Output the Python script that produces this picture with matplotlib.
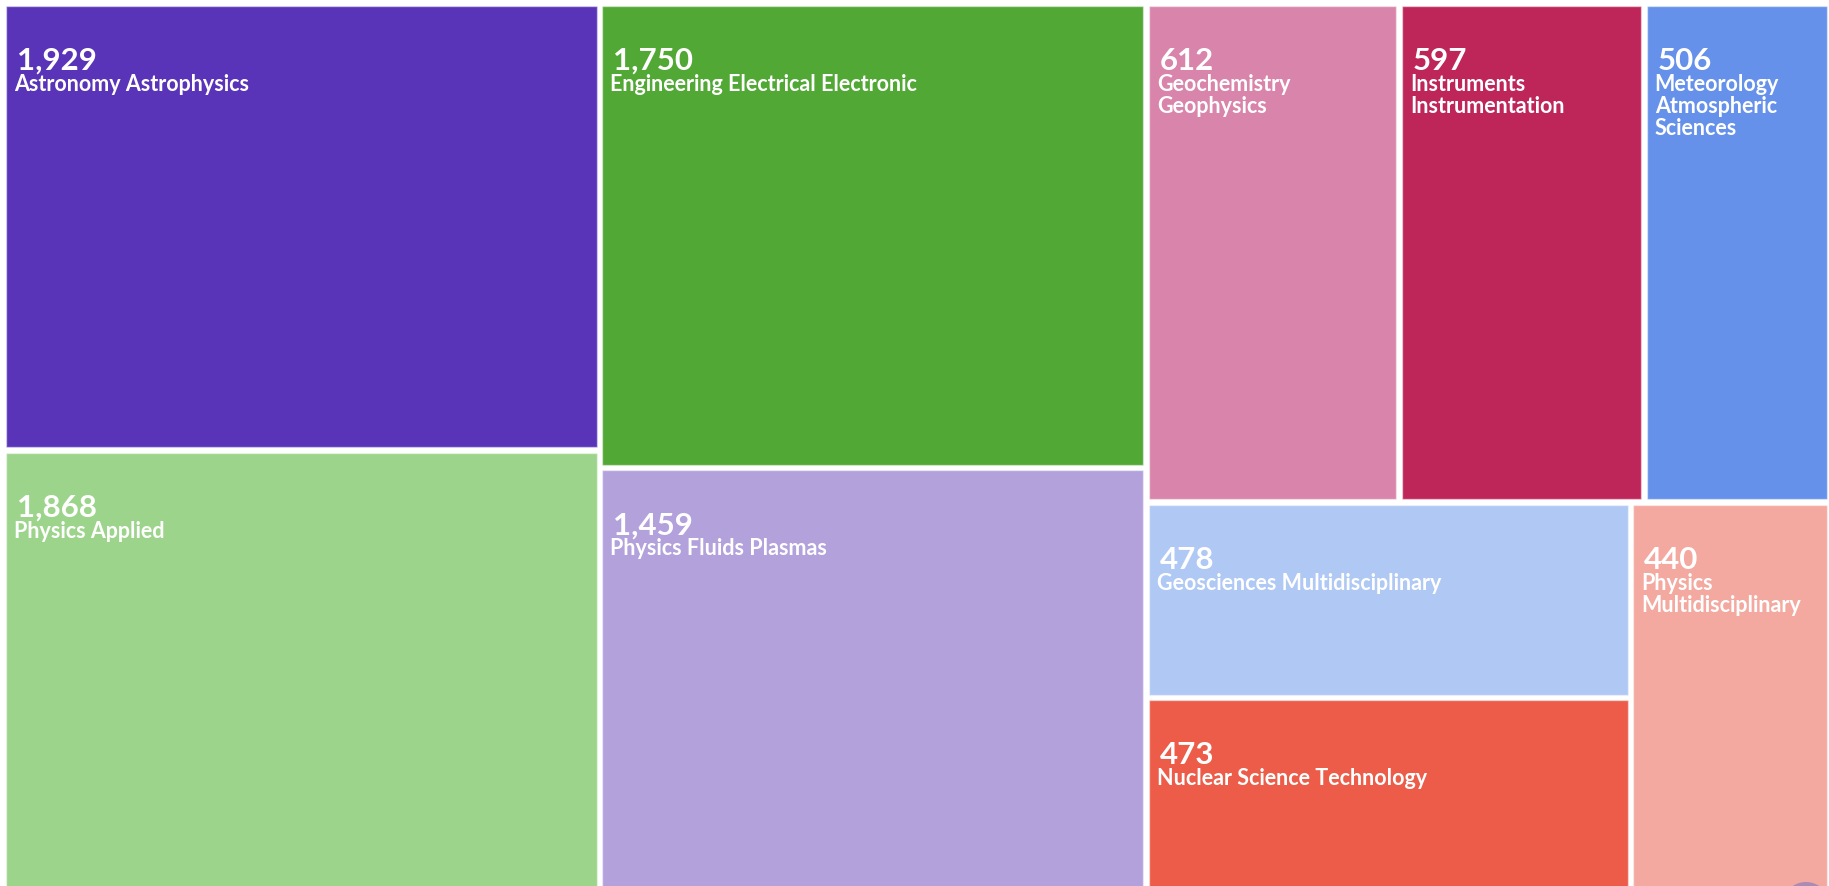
import matplotlib
matplotlib.use("Agg")
import matplotlib.pyplot as plt
from matplotlib.patches import Rectangle, Circle

# categories as shown on the tiles (line breaks as in the reference)
categories = [
    "Astronomy Astrophysics",
    "Physics Applied",
    "Engineering Electrical Electronic",
    "Physics Fluids Plasmas",
    "Geochemistry\nGeophysics",
    "Instruments\nInstrumentation",
    "Meteorology\nAtmospheric\nSciences",
    "Geosciences Multidisciplinary",
    "Nuclear Science Technology",
    "Physics\nMultidisciplinary",
]
counts = [1929, 1868, 1750, 1459, 612, 597, 506, 478, 473, 440]
# relative tile area (percent)
tile_weight = [16.36, 16.29, 15.58, 14.34, 7.75, 7.50, 5.70, 5.81, 5.87, 4.81]
colors = ["#5934b8", "#9dd48b", "#51a834", "#b3a1dc", "#d984aa",
          "#be2659", "#6591eb", "#afc8f4", "#ec5c48", "#f3a99f"]

# hierarchy of the treemap (slice and dice, alternating direction)
tree = [[0, 1], [2, 3], [[4, 5, 6], [[7, 8], 9]]]

W_PX, H_PX = 1829, 886
CANVAS = (3, 3, 1827, 892)   # treemap canvas, partly cropped at the bottom
GAP = 2.8


def node_sum(node):
    if isinstance(node, int):
        return tile_weight[node]
    return sum(node_sum(c) for c in node)


def layout(node, x, y, w, h, horizontal, out):
    if isinstance(node, int):
        out[node] = (x, y, w, h)
        return
    total = node_sum(node)
    pos = x if horizontal else y
    for child in node:
        frac = node_sum(child) / total
        if horizontal:
            layout(child, pos, y, w * frac, h, False, out)
            pos += w * frac
        else:
            layout(child, x, pos, w, h * frac, True, out)
            pos += h * frac


rects = {}
layout(tree, *CANVAS, True, rects)

fig = plt.figure(figsize=(W_PX / 100, H_PX / 100), dpi=100)
ax = fig.add_axes([0, 0, 1, 1])
ax.set_xlim(0, W_PX)
ax.set_ylim(H_PX, 0)
ax.axis("off")

for i, (x, y, w, h) in rects.items():
    ax.add_patch(Rectangle((x + GAP, y + GAP), w - 2 * GAP, h - 2 * GAP,
                           facecolor=colors[i], edgecolor=(1, 1, 1, 0.45),
                           linewidth=1.0))
    tx, ty = x + GAP, y + GAP
    ax.text(tx + 11, ty + 64, f"{counts[i]:,}", color="white",
            fontsize=22.5, fontweight="bold", family=["Lato", "DejaVu Sans"],
            va="baseline", ha="left")
    for k, line in enumerate(categories[i].split("\n")):
        ax.text(tx + 8, ty + 85 + 22 * k, line, color="white",
                fontsize=15.5, fontweight="bold", family=["Lato", "DejaVu Sans"],
                va="baseline", ha="left")

# small floating button peeking in at the bottom right corner
ax.add_patch(Circle((1806, 906), 24, facecolor="#a98bb5", edgecolor="none"))

fig.savefig("out.png", dpi=100, facecolor="white")
